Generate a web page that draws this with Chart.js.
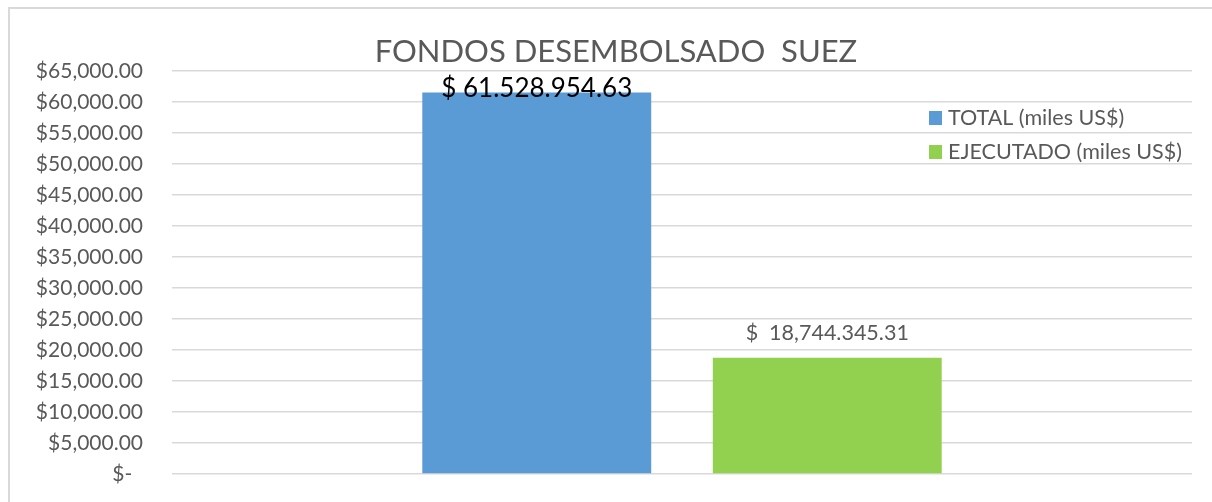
<!DOCTYPE html>
<html>
<head>
<meta charset="utf-8">
<script src="https://cdn.jsdelivr.net/npm/chart.js@4"></script>
<style>
html,body{margin:0;padding:0;background:#fff;}
#wrap{position:relative;width:1212px;height:502px;}
</style>
</head>
<body>
<div id="wrap"><canvas id="c" width="1212" height="502"></canvas></div>
<script>
const chartTitle = "FONDOS DESEMBOLSADO  SUEZ";
const categories = [""];
const seriesNames = ["TOTAL (miles US$)", "EJECUTADO (miles US$)"];
const totalValues = [61528.95463];
const ejecutadoValues = [18744.34531];
const valueLabels = ["$ 61.528.954.63", "$  18,744.345.31"];
const yMin = 0, yMax = 65000, yStep = 5000;

const FONT = "Lato, 'Open Sans', sans-serif";
const GRAY = "#595959";

const decor = {
  id: 'decor',
  beforeDraw(chart) {
    const ctx = chart.ctx;
    ctx.save();
    ctx.fillStyle = '#fff';
    ctx.fillRect(0, 0, chart.width, chart.height);
    ctx.strokeStyle = '#d9d9d9';
    ctx.lineWidth = 2;
    ctx.beginPath();
    ctx.moveTo(9, 502); ctx.lineTo(9, 8); ctx.lineTo(1212, 8);
    ctx.stroke();
    ctx.restore();
  },
  afterDraw(chart) {
    const ctx = chart.ctx;
    ctx.save();
    // title
    ctx.fillStyle = GRAY;
    ctx.font = "31px " + FONT;
    ctx.textAlign = 'center';
    ctx.textBaseline = 'middle';
    ctx.fillText(chartTitle, 616, 52);
    // data labels
    chart.data.datasets.forEach((ds, i) => {
      const meta = chart.getDatasetMeta(i);
      meta.data.forEach((bar) => {
        ctx.textAlign = 'center';
        ctx.textBaseline = 'alphabetic';
        if (i === 0) {
          ctx.fillStyle = '#000';
          ctx.font = "26px " + FONT;
          ctx.fillText(valueLabels[i], bar.x, bar.y + 4);
        } else {
          ctx.fillStyle = GRAY;
          ctx.font = "21.5px " + FONT;
          ctx.fillText(valueLabels[i], bar.x, bar.y - 18);
        }
      });
    });
    // legend
    ctx.font = "21.5px " + FONT;
    ctx.textAlign = 'left';
    ctx.textBaseline = 'middle';
    chart.data.datasets.forEach((ds, i) => {
      const y = 118 + i * 34;
      ctx.fillStyle = ds.backgroundColor;
      ctx.fillRect(929, y - 7, 13, 14);
      ctx.fillStyle = GRAY;
      ctx.fillText(ds.label, 948, y);
    });
    ctx.restore();
  }
};

new Chart(document.getElementById('c'), {
  type: 'bar',
  data: {
    labels: categories,
    datasets: [
      { label: seriesNames[0], data: totalValues, backgroundColor: '#5B9BD5' },
      { label: seriesNames[1], data: ejecutadoValues, backgroundColor: '#92D050' }
    ]
  },
  options: {
    responsive: false,
    animation: false,
    devicePixelRatio: 1,
    categoryPercentage: 0.5696,
    barPercentage: 0.788,
    layout: { padding: { left: 0, right: 20, top: 71, bottom: 28 } },
    plugins: { legend: { display: false }, title: { display: false }, tooltip: { enabled: false } },
    scales: {
      x: { display: false },
      y: {
        min: yMin, max: yMax,
        afterFit(scale) { scale.width = 172; },
        border: { display: false },
        grid: { color: '#d9d9d9', lineWidth: 1.5, drawTicks: true, tickLength: 29, tickColor: 'rgba(0,0,0,0)' },
        ticks: {
          stepSize: yStep,
          padding: 0,
          color: GRAY,
          font: { family: FONT, size: 21 },
          callback(v) {
            if (v === 0) return "$-  ";
            return "$" + v.toLocaleString('en-US', { minimumFractionDigits: 2, maximumFractionDigits: 2 });
          }
        }
      }
    }
  },
  plugins: [decor]
});
</script>
</body>
</html>
